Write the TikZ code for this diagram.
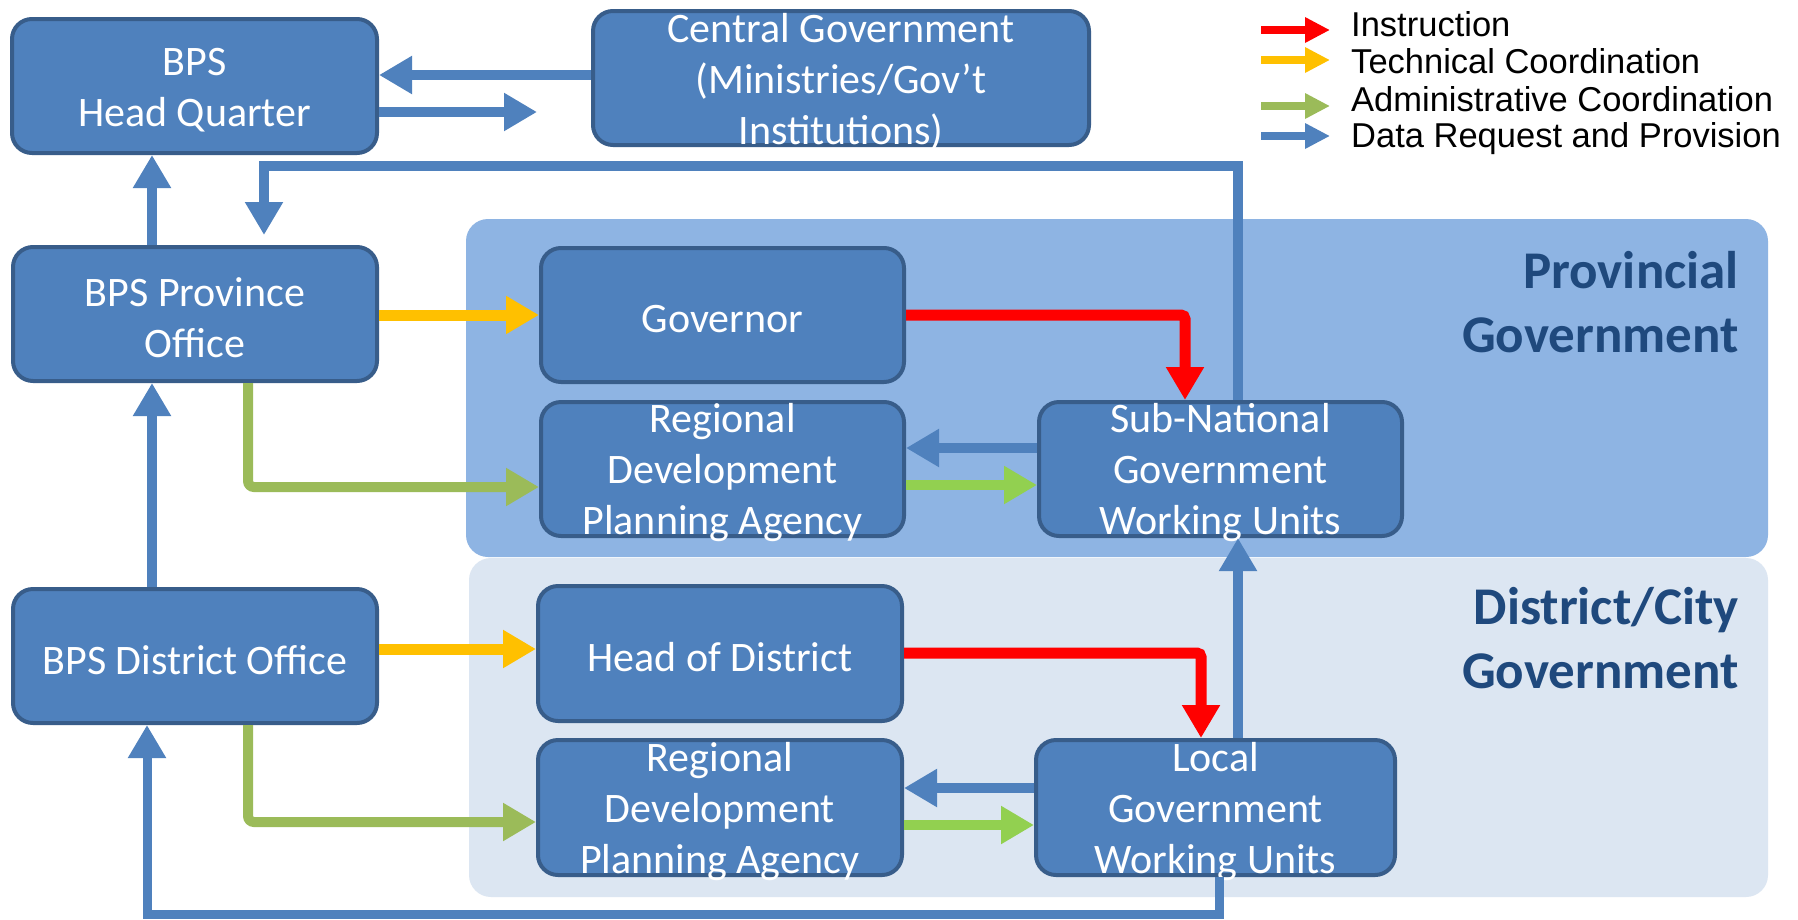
\documentclass[tikz,border=0pt]{standalone}
\usepackage{fontspec}
\setmainfont{Carlito}
\newfontfamily\legendfont{Liberation Sans}
\usetikzlibrary{arrows.meta}
\definecolor{boxfill}{HTML}{4F81BD}
\definecolor{boxborder}{HTML}{385D8A}
\definecolor{provpanel}{HTML}{8EB4E3}
\definecolor{distpanel}{HTML}{DCE6F2}
\definecolor{labelblue}{HTML}{1F497D}
\definecolor{arrowblue}{HTML}{4F81BD}
\definecolor{techyellow}{HTML}{FFC000}
\definecolor{admingreen}{HTML}{9BBB59}
\definecolor{lightgreen}{HTML}{92D050}
\definecolor{instred}{HTML}{FF0000}
\begin{document}
\begin{tikzpicture}[x=1pt,y=-1pt,
  org/.style={draw=boxborder, line width=4pt, fill=boxfill, rounded corners=20pt,
    minimum width=364pt, minimum height=134pt, inner sep=0pt},
  orgtext/.style={text=white, align=center, inner sep=0pt, yshift=-4pt,
    font=\fontsize{42}{51}\selectfont},
  paneltext/.style={text=labelblue, align=right, inner sep=0pt,
    font=\fontsize{53}{64}\selectfont\bfseries},
  legtext/.style={inner sep=0pt, font=\legendfont\fontsize{34.5}{37}\selectfont},
  arr/.style={line width=10pt, -{Triangle[width=36pt,length=33pt]}},
  bluearrow/.style={arr, draw=arrowblue},
  yellowarrow/.style={arr, line width=11pt, draw=techyellow},
  redarrow/.style={arr, line width=11pt, draw=instred, rounded corners=4pt},
  greenarrow/.style={arr, draw=admingreen, rounded corners=6pt},
  lgreenarrow/.style={arr, draw=lightgreen},
  legarrow/.style={line width=8pt, -{Triangle[width=24pt,length=25pt]}}
]
\useasboundingbox (0,0) rectangle (1798,919);
\fill[white] (0,0) rectangle (1798,919);

% panels
\fill[provpanel, rounded corners=22pt] (466,219) rectangle (1768,557);
\fill[distpanel, rounded corners=22pt] (469,558) rectangle (1768,897);
\node[paneltext, anchor=north east] (provlabel) at (1739,251) {Provincial\\Government};
\node[paneltext, anchor=north east] (distlabel) at (1739,587) {District/City\\Government};

% boxes
\node[org, minimum width=365pt] (hq) at (194.5,86) {};
\node[orgtext] (hqt) at (hq) {BPS\\Head Quarter};
\node[org, minimum width=496pt] (cg) at (841,78) {};
\node[orgtext] (cgt) at (cg) {Central Government\\(Ministries/Gov’t\\Institutions)};
\node[org] (prov) at (195,314) {};
\node[orgtext] (provt) at (prov) {BPS Province\\Office};
\node[org, minimum width=363pt] (gov) at (722.5,315) {};
\node[orgtext] (govt) at (gov) {Governor};
\node[org, minimum width=363pt] (rdpa1) at (722.5,469) {};
\node[orgtext] (rdpa1t) at (rdpa1) {Regional\\Development\\Planning Agency};
\node[org, minimum width=363pt] (snu) at (1220.5,469) {};
\node[orgtext] (snut) at (snu) {Sub-National\\Government\\Working Units};
\node[org] (dist) at (195,656) {};
\node[orgtext] (distt) at (dist) {BPS District Office};
\node[org, minimum height=135pt] (hod) at (720,653.5) {};
\node[orgtext] (hodt) at (hod) {Head of District};
\node[org, minimum height=135pt] (rdpa2) at (720,807.5) {};
\node[orgtext] (rdpa2t) at (rdpa2) {Regional\\Development\\Planning Agency};
\node[org, minimum width=359pt, minimum height=135pt] (lgu) at (1215.5,807.5) {};
\node[orgtext] (lgut) at (lgu) {Local\\Government\\Working Units};

% connectors: top
\draw[bluearrow] (cg.west |- 0,75) -- (hq.east |- 0,75);
\coordinate (hqout) at (537,112);
\draw[bluearrow] (hq.east |- 0,112) -- (hqout);
\draw[bluearrow] (prov.north -| 152,0) -- (hq.south -| 152,0);
\draw[bluearrow, shorten >=10pt] (snu.north -| 1238,0) |- (264,166) -- (prov.north -| 264,0);

% provincial
\draw[yellowarrow] (prov.east |- 0,315) -- (gov.west |- 0,315);
\draw[greenarrow] (prov.south -| 248,0) |- (rdpa1.west |- 0,487);
\draw[redarrow] (gov.east |- 0,315) -| (snu.north -| 1185,0);
\draw[bluearrow] (snu.west |- 0,448) -- (rdpa1.east |- 0,448);
\draw[lgreenarrow] (rdpa1.east |- 0,485) -- (snu.west |- 0,485);
\draw[bluearrow] (lgu.north -| 1238,0) -- (snu.south -| 1238,0);

% district
\draw[yellowarrow] (dist.east |- 0,649) -- (hod.west |- 0,649);
\draw[redarrow] (hod.east |- 0,653) -| (lgu.north -| 1201,0);
\draw[greenarrow] (dist.south -| 248,0) |- (rdpa2.west |- 0,822);
\draw[bluearrow] (lgu.west |- 0,788) -- (rdpa2.east |- 0,788);
\draw[lgreenarrow] (rdpa2.east |- 0,825) -- (lgu.west |- 0,825);
\draw[bluearrow] (dist.north -| 152,0) -- (prov.south -| 152,0);
\draw[bluearrow, line width=9pt] (lgu.south -| 1219,0) |- (147,914) -- (dist.south -| 147,0);

% legend
\node[legtext, anchor=base west] (lt1) at (1351,36) {Instruction};
\node[legtext, anchor=base west] (lt2) at (1351,73) {Technical Coordination};
\node[legtext, anchor=base west] (lt3) at (1351,111) {Administrative Coordination};
\node[legtext, anchor=base west] (lt4) at (1351,147) {Data Request and Provision};
\coordinate (la1s) at (1261,30); \coordinate (la1e) at (1330,30);
\coordinate (la2s) at (1261,60); \coordinate (la2e) at (1330,60);
\coordinate (la3s) at (1261,106); \coordinate (la3e) at (1330,106);
\coordinate (la4s) at (1261,136); \coordinate (la4e) at (1330,136);
\draw[legarrow, draw=instred] (la1s) -- (la1e);
\draw[legarrow, draw=techyellow] (la2s) -- (la2e);
\draw[legarrow, draw=admingreen] (la3s) -- (la3e);
\draw[legarrow, draw=arrowblue] (la4s) -- (la4e);
\end{tikzpicture}
\end{document}
